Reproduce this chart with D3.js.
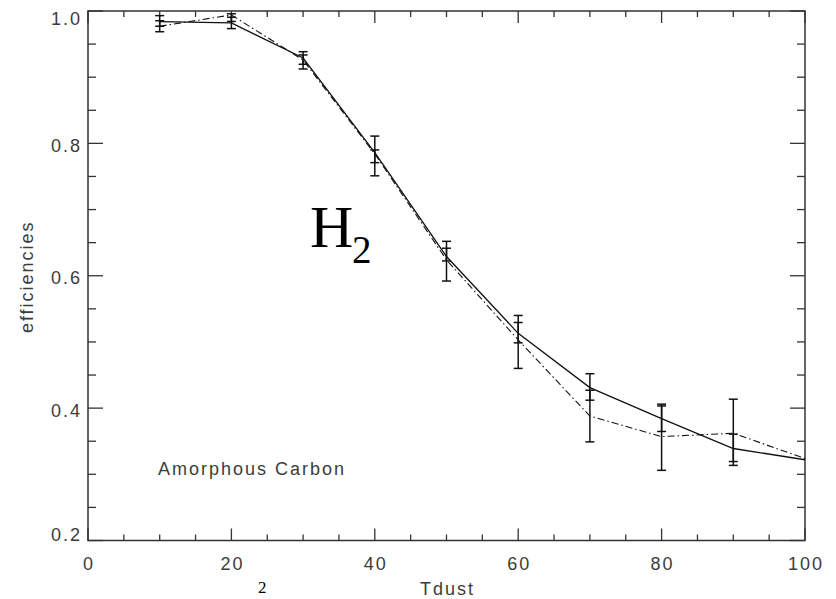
<!DOCTYPE html>
<html><head><meta charset="utf-8">
<script src="https://cdn.jsdelivr.net/npm/d3@7"></script>
<style>html,body{margin:0;padding:0;background:#fff;overflow:hidden}</style>
</head><body>
<svg id="chart" width="836" height="599"></svg>
<script>
// ---- data ----
const tempX = [10, 20, 30, 40, 50, 60, 70, 80, 90, 100];
const solidLine = [0.984, 0.982, 0.929, 0.786, 0.629, 0.513, 0.431, 0.384, 0.339, 0.322];
const dashLine  = [0.977, 0.994, 0.926, 0.784, 0.624, 0.503, 0.388, 0.357, 0.362, 0.324];
const errX = [10, 20, 30, 40, 50, 60, 70, 80, 90];
const solidMean = [0.985, 0.982, 0.929, 0.7805, 0.632, 0.514, 0.432, 0.384, 0.340];
const solidErr  = [0.008, 0.0086, 0.0095, 0.0096, 0.0096, 0.0154, 0.020, 0.0193, 0.0207];
const dashMean  = [0.977, 0.990, 0.923, 0.781, 0.622, 0.500, 0.388, 0.356, 0.3635];
const dashErr   = [0.0083, 0.0058, 0.0106, 0.030, 0.030, 0.040, 0.039, 0.050, 0.050];
const xTicks = [0, 20, 40, 60, 80, 100];
const yTicks = [0.2, 0.4, 0.6, 0.8, 1.0];
const xMinor = [5,10,15,25,30,35,45,50,55,65,70,75,85,90,95];
const yMinor = [0.25,0.3,0.35,0.45,0.5,0.55,0.65,0.7,0.75,0.85,0.9,0.95];
const xTitle = "Tdust";
const yTitle = "efficiencies";
const noteText = "Amorphous Carbon";

// ---- layout ----
const svg = d3.select("#chart");
const L = 88, R = 805, T = 11, B = 540.5;
const x = d3.scaleLinear().domain([0, 100]).range([L, R]);
const y = d3.scaleLinear().domain([0.2, 1.0]).range([B, T]);
const axisCol = "#333";
const txtCol = "#3c3c3c";
const txtFont = "'Liberation Sans', Arial, sans-serif";

// frame
svg.append("rect").attr("x", L).attr("y", T).attr("width", R - L).attr("height", B - T)
  .attr("fill", "none").attr("stroke", axisCol).attr("stroke-width", 1.5);

const tk = svg.append("g").attr("stroke", axisCol).attr("stroke-width", 1.3);
xTicks.forEach(v => {
  tk.append("line").attr("x1", x(v)).attr("x2", x(v)).attr("y1", B).attr("y2", B - 12);
  tk.append("line").attr("x1", x(v)).attr("x2", x(v)).attr("y1", T).attr("y2", T + 12);
});
xMinor.forEach(v => {
  tk.append("line").attr("x1", x(v)).attr("x2", x(v)).attr("y1", B).attr("y2", B - 6);
  tk.append("line").attr("x1", x(v)).attr("x2", x(v)).attr("y1", T).attr("y2", T + 6);
});
yTicks.forEach(v => {
  tk.append("line").attr("x1", L).attr("x2", L + 15).attr("y1", y(v)).attr("y2", y(v));
  tk.append("line").attr("x1", R).attr("x2", R - 15).attr("y1", y(v)).attr("y2", y(v));
});
yMinor.forEach(v => {
  tk.append("line").attr("x1", L).attr("x2", L + 8).attr("y1", y(v)).attr("y2", y(v));
  tk.append("line").attr("x1", R).attr("x2", R - 8).attr("y1", y(v)).attr("y2", y(v));
});

// tick labels
const lab = svg.append("g").attr("font-family", txtFont).attr("font-size", 18)
  .attr("fill", txtCol).attr("letter-spacing", "2px");
xTicks.forEach(v => {
  lab.append("text").attr("x", x(v) + 1).attr("y", 570).attr("text-anchor", "middle").text(d3.format(".0f")(v));
});
yTicks.forEach(v => {
  const cy = Math.min(Math.max(y(v) + 2, 18.5), 534);
  lab.append("text").attr("x", 82).attr("y", cy + 6.5).attr("text-anchor", "end").text(d3.format(".1f")(v));
});

// axis titles
lab.append("text").attr("x", (L + R) / 2 + 1).attr("y", 595).attr("text-anchor", "middle").text(xTitle);
lab.append("text").attr("transform", `translate(33,${(T + B) / 2 + 1}) rotate(-90)`)
  .attr("text-anchor", "middle").text(yTitle);
lab.append("text").attr("x", 158).attr("y", 475).text(noteText);

// lines
const line = d3.line().x((d, i) => x(tempX[i])).y(d => y(d));
svg.append("path").attr("d", line(solidLine)).attr("fill", "none")
  .attr("stroke", "#111").attr("stroke-width", 1.3);
svg.append("path").attr("d", line(dashLine)).attr("fill", "none")
  .attr("stroke", "#111").attr("stroke-width", 1.1).attr("stroke-dasharray", "7,3,1.5,3");

// error bars
function errBars(means, errs) {
  const g = svg.append("g").attr("stroke", "#111").attr("stroke-width", 1.5);
  errX.forEach((xv, i) => {
    const lo = y(means[i] - errs[i]), hi = y(means[i] + errs[i]), cx = x(xv);
    g.append("line").attr("x1", cx).attr("x2", cx).attr("y1", lo).attr("y2", hi);
    g.append("line").attr("x1", cx - 4.5).attr("x2", cx + 4.5).attr("y1", lo).attr("y2", lo);
    g.append("line").attr("x1", cx - 4.5).attr("x2", cx + 4.5).attr("y1", hi).attr("y2", hi);
  });
}
errBars(solidMean, solidErr);
errBars(dashMean, dashErr);

// H2 annotation
const h = svg.append("text").attr("font-family", "'Liberation Serif', 'Times New Roman', serif").attr("fill", "#000");
h.append("tspan").attr("x", 310).attr("y", 246.7).attr("font-size", 60).text("H");
h.append("tspan").attr("x", 352).attr("y", 263.3).attr("font-size", 39).text("2");

// small character at the bottom edge
svg.append("text").attr("font-family", "'Liberation Serif', serif").attr("font-size", 17)
  .attr("x", 258).attr("y", 593).attr("fill", "#000").text("2");
</script>
</body></html>
